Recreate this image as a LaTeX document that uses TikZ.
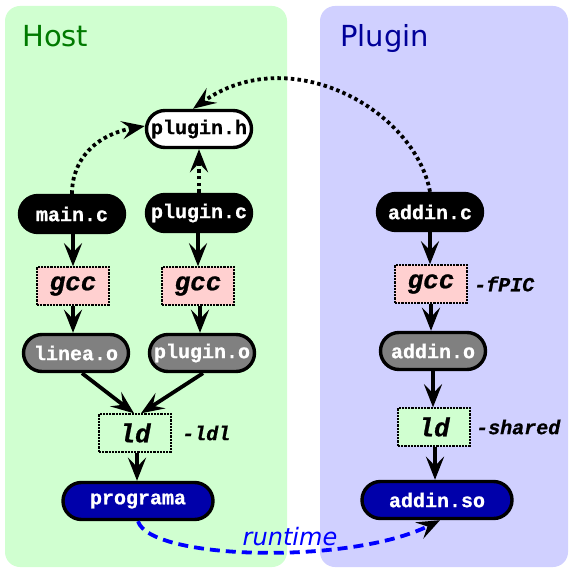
\documentclass[tikz,border=0pt]{standalone}
\usepackage{fontspec}
\setmonofont{Liberation Mono}[BoldFeatures={FakeBold=0.8},BoldItalicFeatures={FakeBold=0.8}]
\newfontfamily\titlefont{DejaVu Sans}
\usetikzlibrary{arrows.meta}

\definecolor{hostbg}{HTML}{D0FFD0}
\definecolor{plugbg}{HTML}{D0D0FF}
\definecolor{hosttitle}{HTML}{007A00}
\definecolor{plugtitle}{HTML}{000099}
\definecolor{objgrey}{HTML}{808080}
\definecolor{binblue}{HTML}{0000AA}
\definecolor{toolpink}{HTML}{FFD0D0}
\definecolor{rtblue}{HTML}{0000FF}

\tikzset{
  file/.style={rectangle, rounded corners=18.5pt, minimum height=37pt,
    minimum width=105pt, inner sep=0pt, line width=3.4pt, draw=black,
    font=\ttfamily\bfseries\fontsize{20}{24}\selectfont},
  srcfile/.style={file, fill=black, text=white},
  hdrfile/.style={file, fill=white, text=black},
  objfile/.style={file, fill=objgrey, text=white},
  binfile/.style={file, fill=binblue, text=white, minimum width=150pt},
  tool/.style={rectangle, draw=black, line width=1.4pt,
    dash pattern=on 2.2pt off 1pt, minimum width=72pt, minimum height=38pt,
    inner sep=0pt, font=\ttfamily\bfseries\itshape\fontsize{26}{30}\selectfont},
  gcctool/.style={tool, fill=toolpink},
  ldtool/.style={tool, fill=hostbg},
  flag/.style={anchor=west, inner sep=0pt,
    font=\ttfamily\bfseries\itshape\fontsize{20}{24}\selectfont},
  tip/.style={-{Stealth[length=23pt,width=18pt,inset=9pt]}},
  flow/.style={tip, line width=3.8pt},
  incl/.style={tip, line width=3.8pt, dash pattern=on 3.5pt off 3.2pt},
  title/.style={anchor=base west, inner sep=0pt,
    font=\titlefont\fontsize{29}{34}\selectfont},
}

\begin{document}
\begin{tikzpicture}[x=1pt,y=-1pt]
\useasboundingbox (0,0) rectangle (569,569);

% background panels
\fill[hostbg, rounded corners=15pt] (5,6) rectangle (287,567);
\fill[plugbg, rounded corners=15pt] (320,6) rectangle (568,567);
\node[title, text=hosttitle] (hostlbl) at (22,47) {Host};
\node[title, text=plugtitle] (pluglbl) at (340,47) {Plugin};

% host side
\node[hdrfile] (hdr) at (199,129) {plugin.h};
\node[srcfile] (mainc) at (72,214) {main.c};
\node[srcfile] (pluginc) at (199,213) {plugin.c};
\node[gcctool] (gcca) at (73,286) {gcc};
\node[gcctool] (gccb) at (198,286) {gcc};
\node[objfile] (lineao) at (76,353) {linea.o};
\node[objfile] (plugino) at (202,353) {plugin.o};
\node[ldtool] (lda) at (135,433) {ld};
\node[flag] (ldl) at (182,433) {-ldl};
\node[binfile] (prog) at (138,501) {programa};

% plugin side
\node[srcfile] (addinc) at (430,212) {addin.c};
\node[gcctool] (gccc) at (431,284) {gcc};
\node[flag] (fpic) at (474,284) {-fPIC};
\node[objfile] (addino) at (433,351) {addin.o};
\node[ldtool] (ldb) at (434,427) {ld};
\node[flag] (shared) at (476,427) {-shared};
\node[binfile] (addinso) at (437,500) {addin.so};

% build steps
\draw[flow] (mainc.south -| gcca) -- (gcca.north);
\draw[flow] (gcca.south) -- (gcca.south |- lineao.north);
\draw[flow] (pluginc.south -| gccb) -- (gccb.north);
\draw[flow] ([xshift=2pt]gccb.south) -- ([xshift=2pt]gccb.south |- plugino.north);
\draw[flow] ([xshift=6pt]lineao.south) -- ([xshift=-1pt]lda.north);
\draw[flow] ([xshift=1pt]plugino.south) -- ([xshift=6pt]lda.north);
\draw[flow] ([xshift=2pt]lda.south) -- ([xshift=2pt]lda.south |- prog.north);

\draw[flow] (addinc.south) -- (addinc.south |- gccc.north);
\draw[flow] (gccc.south) -- (gccc.south |- addino.north);
\draw[flow] (addino.south) -- (addino.south |- ldb.north);
\draw[flow] ([xshift=1pt]ldb.south) -- ([xshift=1pt]ldb.south |- addinso.north);

% includes
\draw[incl] (mainc.north) .. controls (72,160) and (95,135) .. ([yshift=3pt]hdr.west);
\draw[incl] (pluginc.north) -- (hdr.south);
\draw[incl] (addinc.north) .. controls (415,110) and (290,40) .. ([xshift=-6pt]hdr.north);

% dynamic loading
\draw[line width=3.8pt, rtblue, dash pattern=on 10pt off 6pt,
      -{Stealth[length=23pt,width=18pt,inset=9pt,black]}]
  (prog.south) .. controls (150,560) and (350,565) .. ([xshift=3pt]addinso.south);
\node[anchor=base, inner sep=0pt, text=rtblue,
      font=\titlefont\itshape\fontsize{24}{28}\selectfont] (rt) at (290,545) {runtime};
\end{tikzpicture}
\end{document}
